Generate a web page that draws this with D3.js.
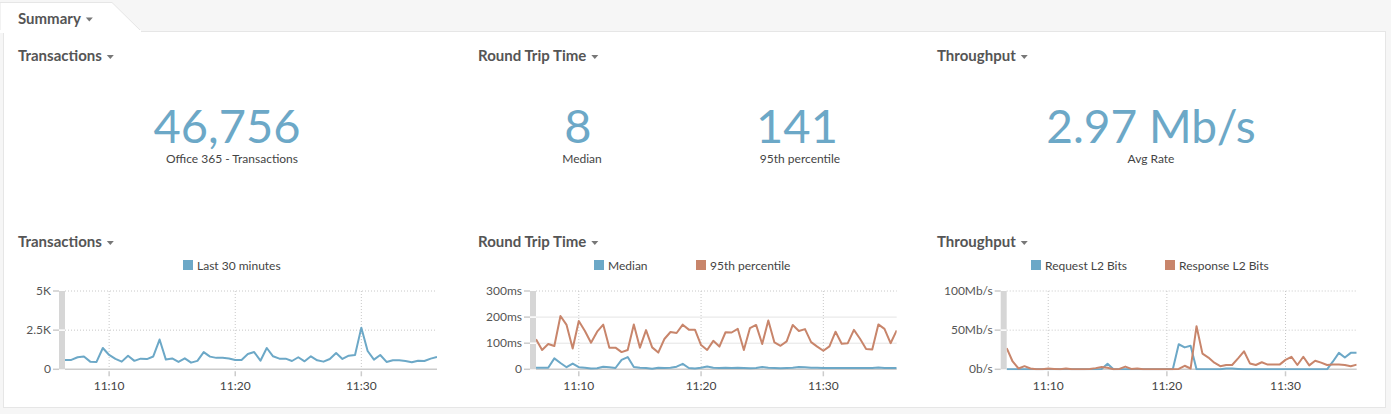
<!DOCTYPE html>
<html><head><meta charset="utf-8">
<script src="https://cdn.jsdelivr.net/npm/d3@7"></script>
<style>
html,body{margin:0;padding:0;background:#f6f6f6;}
svg{display:block;font-family:Lato,"Open Sans",sans-serif;}
</style></head>
<body><svg id="c" width="1391" height="414"></svg>
<script>
// ---------- data ----------
const startTime = "11:06:30";
const stepSeconds = 30;
const transactions = [600,600,770,820,490,470,1360,915,670,490,860,540,680,650,820,1900,620,690,470,700,425,540,1100,810,730,730,690,600,600,980,1100,550,1360,830,680,680,530,770,510,830,575,490,660,1040,660,870,915,2660,1170,620,915,470,575,575,530,450,550,530,680,790];
const rttMedian = [6,6,6,42,24,8,22,8,6,3,4,10,8,5,36,47,9,6,5,2,6,5,6,10,21,5,3,6,11,6,5,6,5,6,5,4,5,9,6,5,4,5,6,9,8,6,6,5,5,5,5,5,5,5,5,5,7,5,5,5];
const rtt95 = [115,74,97,89,204,170,80,185,147,102,144,171,83,83,66,74,172,83,150,84,64,116,143,139,171,152,152,93,74,109,87,142,141,155,74,158,170,97,187,103,90,107,170,147,154,104,87,71,88,144,98,100,151,117,78,76,172,155,100,149];
const requestL2 = [0,0,0,0,0,0,0,0,0,0,0,0,0,0,0,0,0.5,7,0,0,0,0,0,0,0,0,0,0,0,32,28,30,0,0,0,0,0,1,1,0.5,0,0,0,0,0,0,0,0,0,0,0,0,0,0,0,10,21,15,21,21];
const responseL2 = [27,10,1,4,1,0,0,1,0.5,0,1,0,0,0,0.5,1.5,3,2,0,0.5,3.5,0.5,1,0,0,0,0,0,0,0.5,4.5,1,55,20,15,8.5,4,5.5,5.5,14,23,7.5,5.5,9,6,6,6,12,16,5.5,16,5,11,8.5,5.5,6,6,5.5,4,6];

const kpiTitles = ["Transactions","Round Trip Time","Throughput"];
const kpiValues = ["46,756","8","141","2.97 Mb/s"];
const kpiLabels = ["Office 365 - Transactions","Median","95th percentile","Avg Rate"];

const chartTitles = ["Transactions","Round Trip Time","Throughput"];
const legend1 = ["Last 30 minutes"];
const legend2 = ["Median","95th percentile"];
const legend3 = ["Request L2 Bits","Response L2 Bits"];
const ticks1 = [0,2500,5000], tickLabels1 = ["0","2.5K","5K"];
const ticks2 = [0,100,200,300], tickLabels2 = ["0","100ms","200ms","300ms"];
const ticks3 = [0,50,100], tickLabels3 = ["0b/s","50Mb/s","100Mb/s"];

const BLUE = "#6ca8c7", ORANGE = "#c8856b";

// ---------- helpers ----------
const parse = d3.timeParse("%H:%M:%S");
const t0 = parse(startTime);
const times = transactions.map((_, i) => new Date(t0.getTime() + i * stepSeconds * 1000));

const svg = d3.select("#c");

// background / panel
svg.append("rect").attr("x",0).attr("y",0).attr("width",1391).attr("height",414).attr("fill","#f6f6f6");
svg.append("rect").attr("x",3.5).attr("y",31.5).attr("width",1382).attr("height",376).attr("fill","#fff").attr("stroke","#e6e6e6");
svg.append("path").attr("d","M0,32 L0,2.5 L112,2.5 L142,32").attr("fill","#fff").attr("stroke","#e6e6e6");
svg.append("rect").attr("x",0).attr("y",30).attr("width",141).attr("height",3).attr("fill","#fff");

function caret(x, y){
  svg.append("path").attr("d",`M${x},${y} L${x+7},${y} L${x+3.5},${y+4}Z`).attr("fill","#777");
}
function title(x, y, txt){
  const t = svg.append("text").attr("x",x).attr("y",y).attr("font-size",15).attr("font-weight",700)
    .attr("fill","#555").text(txt);
  const w = t.node().getComputedTextLength();
  caret(x + w + 5, y - 6);
}
title(18, 23.5, "Summary");

// KPI row
title(18, 61, kpiTitles[0]);
title(478, 61, kpiTitles[1]);
title(937, 61, kpiTitles[2]);
const kpiPos = [[227,232],[578,582],[797,800],[1151,1151]];
kpiValues.forEach((v,i)=>{
  svg.append("text").attr("x",kpiPos[i][0]).attr("y",143).attr("text-anchor","middle")
    .attr("font-size",i===3?46:47).attr("fill","#6ca8c7").text(v);
  svg.append("text").attr("x",kpiPos[i][1]).attr("y",162.5).attr("text-anchor","middle")
    .attr("font-size",12).attr("fill","#444").text(kpiLabels[i]);
});

// charts
function chart(cfg){
  const {left,right,top,bottom,yMax,ticks,tickLabels,series,legend,legendX,tx,ttl} = cfg;
  title(tx, 247, ttl);
  const x = d3.scaleTime().domain([times[0], times[times.length-1]]).range([left,right]);
  const y = d3.scaleLinear().domain([0,yMax]).range([bottom,top]);
  const g = svg.append("g");
  // legend
  legend.forEach((l,i)=>{
    g.append("rect").attr("x",legendX[i]).attr("y",260).attr("width",10).attr("height",10).attr("fill",series[i].color);
    g.append("text").attr("x",legendX[i]+14).attr("y",269.5).attr("font-size",12).attr("fill","#444").text(l);
  });
  // gray bar
  g.append("rect").attr("x",left-6).attr("y",top).attr("width",6).attr("height",bottom-top).attr("fill","#d6d6d6");
  // y ticks
  ticks.forEach((tv,i)=>{
    const yy = y(tv);
    g.append("line").attr("x1",left-12).attr("x2",left-6).attr("y1",yy).attr("y2",yy).attr("stroke","#ccc").attr("stroke-width",1.5);
    if (tv>0 && tv<yMax) g.append("line").attr("x1",left-6).attr("x2",left).attr("y1",yy).attr("y2",yy).attr("stroke","#fff").attr("stroke-width",1.5);
    g.append("text").attr("x",left-14).attr("y",yy+4).attr("text-anchor","end").attr("font-size",12).attr("fill","#555").text(tickLabels[i]);
    if (tv>0) g.append("line").attr("x1",left).attr("x2",right).attr("y1",yy).attr("y2",yy)
      .attr("stroke",cfg.solidGrid && tv<yMax ? "#e4e4e4":"#c8c8c8").attr("stroke-width",1)
      .attr("stroke-dasharray",cfg.solidGrid && tv<yMax ? null : "1,2");
  });
  // x ticks
  const xt = x.ticks(d3.timeMinute.every(10));
  xt.forEach(t=>{
    const xx = x(t);
    g.append("line").attr("x1",xx).attr("x2",xx).attr("y1",top).attr("y2",bottom).attr("stroke","#c8c8c8").attr("stroke-dasharray","1,2");
    g.append("line").attr("x1",xx).attr("x2",xx).attr("y1",bottom+2).attr("y2",bottom+7).attr("stroke","#ccc").attr("stroke-width",1.5);
    g.append("text").attr("x",xx).attr("y",389.5).attr("text-anchor","middle").attr("font-size",12).attr("fill","#444").text(d3.timeFormat("%H:%M")(t));
  });
  // axis baseline
  g.append("line").attr("x1",left).attr("x2",right).attr("y1",bottom).attr("y2",bottom).attr("stroke","#ccc").attr("stroke-width",1.5);
  // lines
  const clipId = "clip"+Math.round(left);
  svg.append("clipPath").attr("id",clipId).append("rect").attr("x",left).attr("y",top-5).attr("width",right-left).attr("height",bottom-top+6);
  series.forEach(s=>{
    const line = d3.line().x((d,i)=>x(times[i])).y(d=>y(d));
    g.append("path").datum(s.values).attr("d",line).attr("fill","none").attr("stroke",s.color)
      .attr("stroke-width",2).attr("stroke-linejoin","round").attr("clip-path",`url(#${clipId})`);
  });
}

chart({left:65,right:437,top:291,bottom:369.3,yMax:5000,ticks:ticks1,tickLabels:tickLabels1,
  series:[{values:transactions,color:BLUE}],legend:legend1,legendX:[183],tx:18,ttl:chartTitles[0]});
chart({left:536,right:896.7,top:291,bottom:369.3,yMax:300,ticks:ticks2,tickLabels:tickLabels2,solidGrid:true,
  series:[{values:rttMedian,color:BLUE},{values:rtt95,color:ORANGE}],legend:legend2,legendX:[594,696],tx:478,ttl:chartTitles[1]});
chart({left:1006.7,right:1356.7,top:291,bottom:369.3,yMax:100,ticks:ticks3,tickLabels:tickLabels3,
  series:[{values:requestL2,color:BLUE},{values:responseL2,color:ORANGE}],legend:legend3,legendX:[1031,1165],tx:937,ttl:chartTitles[2]});
</script></body></html>
